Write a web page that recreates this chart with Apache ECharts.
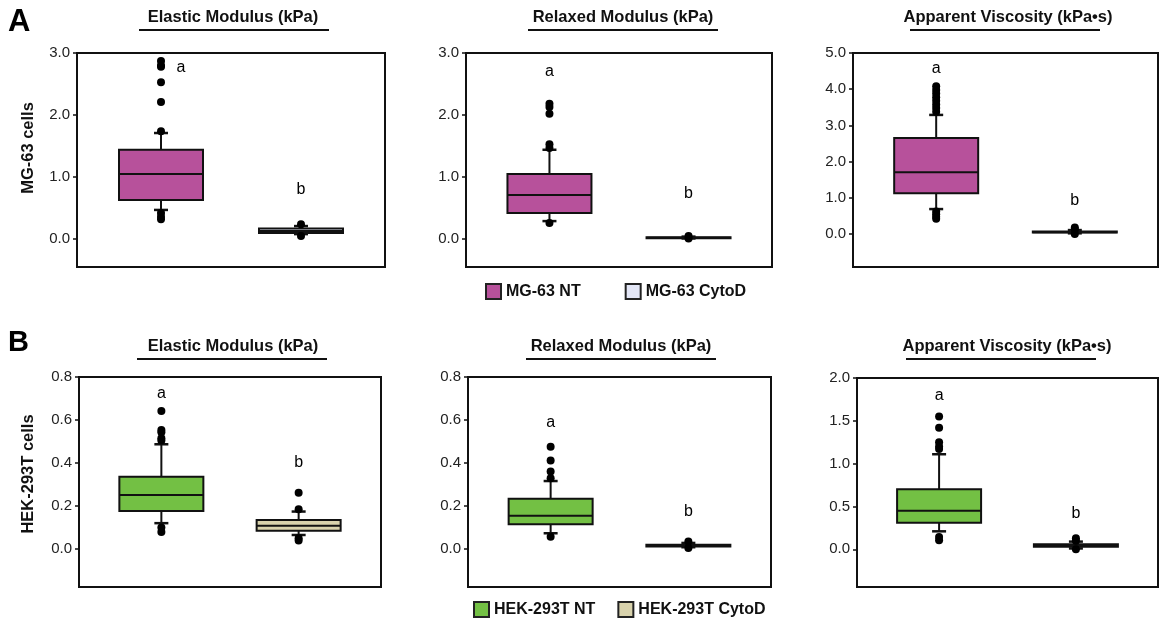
<!DOCTYPE html>
<html>
<head>
<meta charset="utf-8">
<script src="https://cdn.jsdelivr.net/npm/echarts@6/dist/echarts.min.js"></script>
<style>
  html, body { margin: 0; padding: 0; background: #fff; }
  #chart { width: 1160px; height: 619px; }
</style>
</head>
<body>
<div id="chart"></div>
<script>
// groups and measures
var groupsA = ['MG-63 NT', 'MG-63 CytoD'];
var groupsB = ['HEK-293T NT', 'HEK-293T CytoD'];
var measures = ['Elastic Modulus (kPa)', 'Relaxed Modulus (kPa)', 'Apparent Viscosity (kPa\u2022s)'];
var rowNames = ['MG-63 cells', 'HEK-293T cells'];

// box stats: [low whisker, Q1, median, Q3, high whisker]
var mgElasticNT = [0.47, 0.63, 1.05, 1.44, 1.71];
var mgElasticCD = [0.08, 0.10, 0.13, 0.17, 0.21];
var mgRelaxedNT = [0.29, 0.42, 0.71, 1.05, 1.44];
var mgRelaxedCD = [0.01, 0.015, 0.02, 0.03, 0.04];
var mgViscNT = [0.69, 1.13, 1.71, 2.65, 3.29];
var mgViscCD = [0.02, 0.04, 0.05, 0.07, 0.11];
var hekElasticNT = [0.12, 0.177, 0.251, 0.336, 0.487];
var hekElasticCD = [0.065, 0.085, 0.108, 0.135, 0.174];
var hekRelaxedNT = [0.073, 0.115, 0.155, 0.233, 0.316];
var hekRelaxedCD = [0.008, 0.012, 0.016, 0.02, 0.028];
var hekViscNT = [0.21, 0.31, 0.45, 0.70, 1.11];
var hekViscCD = [0.01, 0.03, 0.045, 0.06, 0.09];

// outliers
var mgElasticNTOut = [2.87, 2.80, 2.78, 2.53, 2.21, 1.74, 0.42, 0.36, 0.32];
var mgElasticCDOut = [0.24, 0.05];
var mgRelaxedNTOut = [2.18, 2.13, 2.02, 1.53, 1.47, 0.26];
var mgRelaxedCDOut = [0.05, 0.01];
var mgViscNTOut = [4.08, 3.98, 3.88, 3.78, 3.68, 3.58, 3.48, 3.38, 0.62, 0.55, 0.48, 0.42];
var mgViscCDOut = [0.18, 0.13, 0.0];
var hekElasticNTOut = [0.642, 0.553, 0.543, 0.515, 0.504, 0.10, 0.079];
var hekElasticCDOut = [0.262, 0.185, 0.05, 0.039];
var hekRelaxedNTOut = [0.476, 0.411, 0.36, 0.329, 0.057];
var hekRelaxedCDOut = [0.035, 0.005];
var hekViscNTOut = [1.55, 1.42, 1.25, 1.20, 1.17, 0.145, 0.105];
var hekViscCDOut = [0.13, 0.10, 0.0];

// significance letters: [y of 'a', y of 'b'] per panel
var lettersY = [[2.77, 0.79], [2.70, 0.74], [4.58, 0.92], [0.725, 0.40], [0.59, 0.174], [1.79, 0.42]];

// y axis ranges and tick labels
var yMins = [-0.45, -0.45, -0.91, -0.177, -0.177, -0.44];
var yMaxs = [3, 3, 5, 0.8, 0.8, 2];
var mgTicks = [0, 1, 2, 3];
var mgViscTicks = [0, 1, 2, 3, 4, 5];
var hekTicks = [0, 0.2, 0.4, 0.6, 0.8];
var hekViscTicks = [0, 0.5, 1, 1.5, 2];

var FONT = "'Liberation Sans', Arial, sans-serif";
var colNT_A = '#B7519B', colCD_A = '#E3E6F6';
var colNT_B = '#73C044', colCD_B = '#D8D2AC';

var panels = [
    {nt: mgElasticNT, cd: mgElasticCD, ntOut: mgElasticNTOut, cdOut: mgElasticCDOut, ticks: mgTicks, names: groupsA, colors: [colNT_A, colCD_A]},
    {nt: mgRelaxedNT, cd: mgRelaxedCD, ntOut: mgRelaxedNTOut, cdOut: mgRelaxedCDOut, ticks: mgTicks, names: groupsA, colors: [colNT_A, colCD_A]},
    {nt: mgViscNT, cd: mgViscCD, ntOut: mgViscNTOut, cdOut: mgViscCDOut, ticks: mgViscTicks, names: groupsA, colors: [colNT_A, colCD_A]},
    {nt: hekElasticNT, cd: hekElasticCD, ntOut: hekElasticNTOut, cdOut: hekElasticCDOut, ticks: hekTicks, names: groupsB, colors: [colNT_B, colCD_B]},
    {nt: hekRelaxedNT, cd: hekRelaxedCD, ntOut: hekRelaxedNTOut, cdOut: hekRelaxedCDOut, ticks: hekTicks, names: groupsB, colors: [colNT_B, colCD_B]},
    {nt: hekViscNT, cd: hekViscCD, ntOut: hekViscNTOut, cdOut: hekViscCDOut, ticks: hekViscTicks, names: groupsB, colors: [colNT_B, colCD_B]}
];

var grids = [
    {left: 77, top: 53, width: 308, height: 214},
    {left: 466, top: 53, width: 306, height: 214},
    {left: 853, top: 53, width: 305, height: 214},
    {left: 79, top: 377, width: 302, height: 210},
    {left: 468, top: 377, width: 303, height: 210},
    {left: 857, top: 378, width: 301, height: 209}
];
// title text centre, underline centre, vertical position
var titlePos = [
    {x: 233, lx: 234, y: 17}, {x: 623, lx: 623, y: 17}, {x: 1008, lx: 1005, y: 17},
    {x: 233, lx: 232, y: 346}, {x: 621, lx: 621, y: 346}, {x: 1007, lx: 1001, y: 346}
];

function renderBox(params, api) {
    var x = api.value(0);
    var lo = api.coord([x, api.value(1)]);
    var q1 = api.coord([x, api.value(2)]);
    var md = api.coord([x, api.value(3)]);
    var q3 = api.coord([x, api.value(4)]);
    var hi = api.coord([x, api.value(5)]);
    var cx = lo[0], half = 42, cap = 7;
    var ln = {stroke: '#111', lineWidth: 2};
    return {
        type: 'group',
        children: [
            {type: 'line', shape: {x1: cx, y1: lo[1], x2: cx, y2: q1[1]}, style: ln},
            {type: 'line', shape: {x1: cx, y1: q3[1], x2: cx, y2: hi[1]}, style: ln},
            {type: 'line', shape: {x1: cx - cap, y1: lo[1], x2: cx + cap, y2: lo[1]}, style: {stroke: '#111', lineWidth: 2.5}},
            {type: 'line', shape: {x1: cx - cap, y1: hi[1], x2: cx + cap, y2: hi[1]}, style: {stroke: '#111', lineWidth: 2.5}},
            {type: 'rect', shape: {x: cx - half, y: q3[1], width: half * 2, height: q1[1] - q3[1]},
                style: {fill: api.visual('color'), stroke: '#111', lineWidth: 2}},
            {type: 'line', shape: {x1: cx - half, y1: md[1], x2: cx + half, y2: md[1]}, style: ln}
        ]
    };
}

var xAxes = [], yAxes = [], series = [], graphics = [];

panels.forEach(function (p, i) {
    xAxes.push({
        gridIndex: i, type: 'value', min: -0.6, max: 1.6,
        axisLine: {show: false}, axisTick: {show: false}, axisLabel: {show: false}, splitLine: {show: false}
    });
    yAxes.push({
        gridIndex: i, type: 'value', min: yMins[i], max: yMaxs[i],
        axisLine: {show: true, onZero: false, lineStyle: {color: '#111', width: 2}},
        axisTick: {show: true, customValues: p.ticks, length: 4, lineStyle: {color: '#111', width: 1.5}},
        axisLabel: {show: true, customValues: p.ticks, margin: 7, color: '#222', fontSize: 15, fontFamily: FONT,
            formatter: function (v) { return v.toFixed(1); }},
        splitLine: {show: false}
    });
    [p.nt, p.cd].forEach(function (stats, g) {
        series.push({
            type: 'custom', name: p.names[g], xAxisIndex: i, yAxisIndex: i,
            itemStyle: {color: p.colors[g], borderColor: '#222', borderWidth: 2},
            renderItem: renderBox,
            encode: {x: 0, y: [1, 2, 3, 4, 5]},
            data: [[g].concat(stats)],
            z: 2
        });
    });
    var outs = p.ntOut.map(function (v) { return [0, v]; })
        .concat(p.cdOut.map(function (v) { return [1, v]; }));
    series.push({
        type: 'scatter', xAxisIndex: i, yAxisIndex: i,
        symbolSize: 8, itemStyle: {color: '#000', opacity: 1},
        data: outs, z: 3, silent: true
    });
    series.push({
        type: 'scatter', xAxisIndex: i, yAxisIndex: i,
        symbolSize: 0, silent: true, z: 4, itemStyle: {opacity: 1},
        label: {show: true, position: 'inside', color: '#000', fontSize: 16, fontFamily: FONT,
            formatter: function (d) { return d.dataIndex === 0 ? 'a' : 'b'; }},
        data: [
            {value: [0, lettersY[i][0]], label: i === 0 ? {offset: [20, 0]} : {}},
            {value: [1, lettersY[i][1]]}
        ]
    });

    // panel title with underline
    var tp = titlePos[i];
    graphics.push({type: 'text', x: tp.x, y: tp.y,
        style: {text: measures[i % 3], font: 'bold 16.5px ' + FONT, fill: '#111', align: 'center', verticalAlign: 'middle'}});
    graphics.push({type: 'line', shape: {x1: tp.lx - 95, y1: tp.y + 13, x2: tp.lx + 95, y2: tp.y + 13},
        style: {stroke: '#111', lineWidth: 2}});
});

graphics.push({type: 'text', x: 8, y: 22, style: {text: 'A', font: 'bold 31px ' + FONT, fill: '#000', verticalAlign: 'middle'}});
graphics.push({type: 'text', x: 8, y: 343, style: {text: 'B', font: 'bold 29px ' + FONT, fill: '#000', verticalAlign: 'middle'}});
graphics.push({type: 'text', x: 28, y: 148, rotation: Math.PI / 2,
    style: {text: rowNames[0], font: 'bold 16.5px ' + FONT, fill: '#111', align: 'center', verticalAlign: 'middle'}});
graphics.push({type: 'text', x: 28, y: 474, rotation: Math.PI / 2,
    style: {text: rowNames[1], font: 'bold 16.5px ' + FONT, fill: '#111', align: 'center', verticalAlign: 'middle'}});

var myChart = echarts.init(document.getElementById('chart'));
var option = {
    animation: false,
    grid: grids.map(function (g) {
        return {left: g.left, top: g.top, width: g.width, height: g.height, show: true,
            borderColor: '#111', borderWidth: 2, backgroundColor: 'transparent'};
    }),
    xAxis: xAxes,
    yAxis: yAxes,
    legend: [
        {data: groupsA, left: 480, top: 278, itemWidth: 15, itemHeight: 15, itemGap: 44, icon: 'rect',
            itemStyle: {borderColor: '#222', borderWidth: 2},
            textStyle: {fontSize: 16, fontWeight: 'bold', color: '#111', fontFamily: FONT}, selectedMode: false},
        {data: groupsB, left: 468, top: 596, itemWidth: 15, itemHeight: 15, itemGap: 22, icon: 'rect',
            itemStyle: {borderColor: '#222', borderWidth: 2},
            textStyle: {fontSize: 16, fontWeight: 'bold', color: '#111', fontFamily: FONT}, selectedMode: false}
    ],
    graphic: graphics,
    series: series
};
myChart.setOption(option);
</script>
</body>
</html>
